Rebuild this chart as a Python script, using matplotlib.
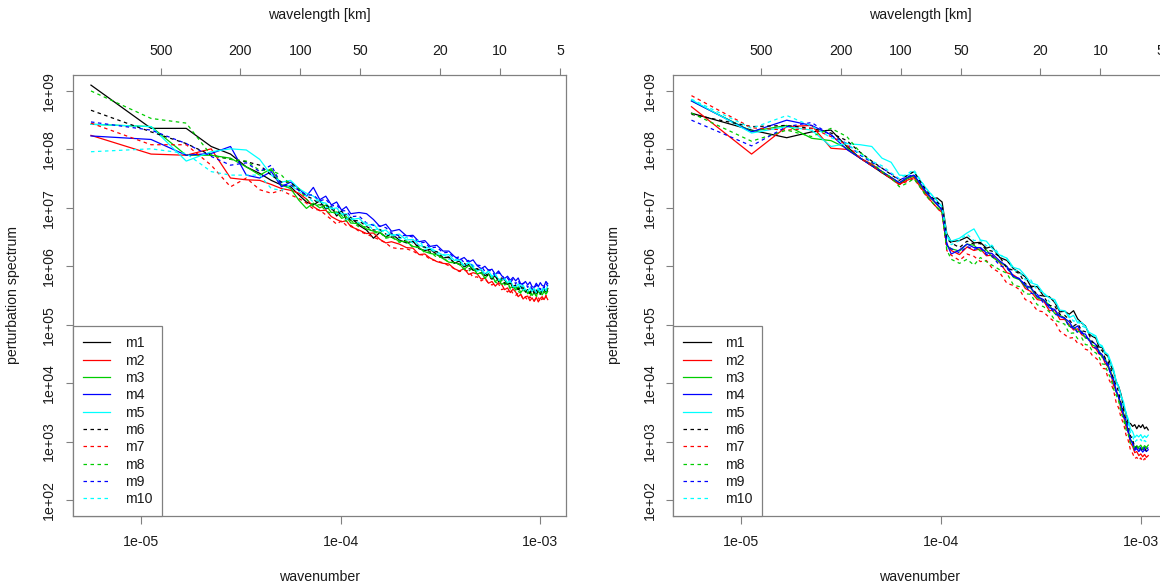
import numpy as np
import matplotlib
matplotlib.use("Agg")
import matplotlib.pyplot as plt
from matplotlib.ticker import FixedLocator, NullLocator
from matplotlib.transforms import blended_transform_factory

plt.rcParams['font.family'] = ['Liberation Sans', 'DejaVu Sans']

# ---------------- data ----------------
domain_km = 1118.0
mode_index = (list(range(1, 21)) + list(range(22, 33, 2)) +
              list(range(35, 51, 3)) + list(range(54, 195, 4)))
wavenumber = 2 * np.pi * np.array(mode_index) / (domain_km * 1000.0)

series_names = ["m1", "m2", "m3", "m4", "m5", "m6", "m7", "m8", "m9", "m10"]
series_colors = ["black", "#FF0000", "#00CD00", "#0000FF", "#00FFFF"] * 2
series_dashed = [False] * 5 + [True] * 5

wavelength_ticks_km = [500, 200, 100, 50, 20, 10, 5]
wavenumber_ticks = [1e-5, 1e-4, 1e-3]
wavenumber_labels = ["1e-05", "1e-04", "1e-03"]
spectrum_ticks = [1e2, 1e3, 1e4, 1e5, 1e6, 1e7, 1e8, 1e9]
spectrum_labels = ["1e+02", "1e+03", "1e+04", "1e+05", "1e+06", "1e+07", "1e+08", "1e+09"]

# log10(perturbation spectrum), left panel
left_m1 = [9.10, 8.36, 8.36, 8.05, 7.92, 7.70, 7.59, 7.47, 7.39, 7.36, 7.22, 7.10,
           7.05, 7.12, 6.98, 7.02, 6.86, 6.95, 6.80, 6.84,
           6.70, 6.62, 6.48, 6.58, 6.50, 6.56, 6.45, 6.40,
           6.43, 6.30, 6.27, 6.29, 6.20, 6.14, 6.16, 6.05,
           6.09, 5.99, 6.03, 5.93, 5.95, 5.94, 5.84, 5.87,
           5.79, 5.84, 5.74, 5.78, 5.77, 5.69, 5.72, 5.63,
           5.67, 5.60, 5.66, 5.64, 5.56, 5.60, 5.53, 5.61,
           5.60, 5.53, 5.59, 5.52, 5.59, 5.62, 5.56, 5.62]
left_m2 = [8.24, 7.92, 7.90, 8.01, 7.51, 7.48, 7.47, 7.40, 7.33, 7.30, 7.25, 7.15,
           7.02, 6.95, 6.96, 6.85, 6.80, 6.76, 6.78, 6.68,
           6.62, 6.56, 6.57, 6.46, 6.40, 6.42, 6.38, 6.32,
           6.31, 6.20, 6.21, 6.14, 6.08, 6.05, 6.04, 5.96,
           5.92, 5.96, 5.86, 5.89, 5.87, 5.78, 5.80, 5.71,
           5.74, 5.66, 5.72, 5.69, 5.60, 5.63, 5.55, 5.61,
           5.56, 5.48, 5.52, 5.44, 5.48, 5.49, 5.41, 5.46,
           5.40, 5.47, 5.39, 5.45, 5.48, 5.43, 5.49, 5.43]
left_m3 = [8.43, 8.39, 7.90, 7.90, 7.85, 7.70, 7.56, 7.67, 7.39, 7.33, 7.13, 6.99,
           7.08, 7.00, 7.05, 6.92, 6.93, 6.82, 6.85, 6.74,
           6.73, 6.64, 6.60, 6.58, 6.50, 6.50, 6.43, 6.42,
           6.34, 6.32, 6.25, 6.22, 6.20, 6.13, 6.07, 6.06,
           6.04, 5.95, 6.01, 5.97, 5.87, 5.89, 5.80, 5.86,
           5.83, 5.74, 5.78, 5.69, 5.72, 5.72, 5.63, 5.66,
           5.59, 5.65, 5.55, 5.60, 5.60, 5.53, 5.57, 5.50,
           5.55, 5.49, 5.57, 5.56, 5.51, 5.57, 5.52, 5.61]
left_m4 = [8.23, 8.17, 7.90, 7.93, 8.05, 7.56, 7.51, 7.62, 7.36, 7.44, 7.33, 7.20,
           7.35, 7.14, 7.20, 7.05, 7.10, 6.96, 7.02, 6.90,
           6.92, 6.90, 6.80, 6.68, 6.72, 6.60, 6.63, 6.52,
           6.53, 6.42, 6.44, 6.34, 6.36, 6.26, 6.26, 6.17,
           6.11, 6.15, 6.07, 6.11, 6.01, 5.96, 6.00, 5.93,
           5.95, 5.86, 5.92, 5.84, 5.79, 5.83, 5.76, 5.81,
           5.75, 5.80, 5.70, 5.70, 5.74, 5.68, 5.73, 5.65,
           5.64, 5.71, 5.65, 5.72, 5.67, 5.66, 5.74, 5.70]
left_m5 = [8.43, 8.39, 7.80, 7.96, 8.01, 7.99, 7.83, 7.56, 7.44, 7.47, 7.33, 7.25,
           7.20, 7.10, 7.08, 6.98, 7.00, 6.89, 6.90, 6.80,
           6.82, 6.70, 6.72, 6.60, 6.62, 6.53, 6.55, 6.45,
           6.46, 6.36, 6.33, 6.31, 6.25, 6.19, 6.20, 6.10,
           6.11, 6.01, 6.07, 5.98, 5.92, 5.95, 5.87, 5.92,
           5.83, 5.87, 5.77, 5.76, 5.79, 5.72, 5.76, 5.66,
           5.64, 5.70, 5.62, 5.68, 5.60, 5.57, 5.63, 5.58,
           5.62, 5.55, 5.63, 5.57, 5.56, 5.63, 5.59, 5.67]
left_m6 = [8.67, 8.30, 8.10, 7.90, 7.83, 7.79, 7.73, 7.56, 7.44, 7.44, 7.30, 7.20,
           7.15, 7.05, 7.06, 6.97, 6.96, 6.87, 6.88, 6.78,
           6.78, 6.68, 6.62, 6.63, 6.55, 6.50, 6.50, 6.42,
           6.42, 6.33, 6.33, 6.24, 6.25, 6.15, 6.15, 6.06,
           6.03, 6.06, 5.96, 5.94, 5.96, 5.88, 5.91, 5.81,
           5.78, 5.83, 5.75, 5.80, 5.71, 5.67, 5.72, 5.65,
           5.68, 5.60, 5.66, 5.59, 5.55, 5.60, 5.54, 5.61,
           5.54, 5.60, 5.52, 5.53, 5.60, 5.56, 5.63, 5.56]
left_m7 = [8.45, 8.08, 8.08, 7.73, 7.36, 7.51, 7.31, 7.25, 7.30, 7.22, 7.16, 7.08,
           6.98, 6.96, 6.88, 6.80, 6.72, 6.78, 6.70, 6.70,
           6.60, 6.55, 6.50, 6.45, 6.40, 6.32, 6.30, 6.30,
           6.26, 6.20, 6.19, 6.12, 6.09, 6.06, 6.01, 5.96,
           5.91, 5.93, 5.92, 5.81, 5.82, 5.75, 5.79, 5.71,
           5.68, 5.71, 5.70, 5.60, 5.62, 5.56, 5.61, 5.53,
           5.50, 5.54, 5.53, 5.44, 5.47, 5.42, 5.48, 5.42,
           5.41, 5.46, 5.47, 5.39, 5.45, 5.42, 5.50, 5.45]
left_m8 = [9.00, 8.53, 8.45, 7.90, 7.83, 7.80, 7.64, 7.64, 7.56, 7.39, 7.33, 7.15,
           7.02, 7.06, 6.95, 6.90, 6.92, 6.87, 6.77, 6.79,
           6.67, 6.68, 6.57, 6.58, 6.48, 6.50, 6.41, 6.43,
           6.32, 6.33, 6.23, 6.25, 6.15, 6.16, 6.06, 6.07,
           6.03, 5.95, 5.92, 5.97, 5.88, 5.89, 5.79, 5.83,
           5.80, 5.73, 5.70, 5.76, 5.68, 5.70, 5.61, 5.65,
           5.63, 5.57, 5.54, 5.61, 5.54, 5.57, 5.49, 5.55,
           5.54, 5.49, 5.48, 5.56, 5.52, 5.57, 5.51, 5.58]
left_m9 = [8.47, 8.33, 8.10, 7.88, 7.73, 7.77, 7.62, 7.73, 7.39, 7.39, 7.30, 7.22,
           7.22, 7.12, 7.15, 7.03, 7.05, 6.95, 6.95, 6.85,
           6.86, 6.74, 6.70, 6.69, 6.66, 6.57, 6.52, 6.53,
           6.50, 6.40, 6.41, 6.31, 6.33, 6.23, 6.24, 6.14,
           6.16, 6.06, 6.10, 6.00, 6.02, 6.01, 5.91, 5.94,
           5.91, 5.83, 5.89, 5.86, 5.77, 5.80, 5.72, 5.78,
           5.70, 5.76, 5.66, 5.71, 5.71, 5.64, 5.68, 5.61,
           5.62, 5.67, 5.68, 5.60, 5.66, 5.63, 5.71, 5.66]
left_m10 = [7.96, 8.01, 7.93, 7.62, 7.56, 7.56, 7.56, 7.33, 7.30, 7.39, 7.28, 7.20,
            7.10, 7.15, 7.00, 7.02, 6.90, 6.92, 6.80, 6.84,
            6.74, 6.74, 6.62, 6.65, 6.54, 6.56, 6.47, 6.50,
            6.39, 6.45, 6.29, 6.30, 6.21, 6.21, 6.12, 6.13,
            6.09, 6.00, 6.06, 6.02, 5.92, 5.94, 5.85, 5.91,
            5.81, 5.86, 5.76, 5.80, 5.79, 5.71, 5.74, 5.65,
            5.65, 5.69, 5.68, 5.59, 5.62, 5.57, 5.63, 5.57,
            5.62, 5.55, 5.61, 5.54, 5.61, 5.64, 5.58, 5.64]

# log10(perturbation spectrum), right panel
right_m1 = [8.62, 8.33, 8.20, 8.30, 8.33, 8.05, 7.85, 7.72, 7.60, 7.50,
            7.40, 7.50, 7.55, 7.40, 7.25, 7.15, 7.17, 7.10,
            6.56, 6.42, 6.44, 6.50, 6.40, 6.41, 6.31, 6.34,
            6.15, 6.10, 5.96, 5.89, 5.82, 5.66, 5.65, 5.49,
            5.48, 5.38, 5.22, 5.23, 5.18, 5.24, 5.10, 5.03,
            4.98, 4.84, 4.80, 4.77, 4.62, 4.61, 4.50, 4.46,
            4.30, 4.21, 4.03, 3.94, 3.80, 3.59, 3.49, 3.32,
            3.31, 3.26, 3.29, 3.22, 3.28, 3.24, 3.29, 3.22,
            3.25, 3.20]
right_m2 = [8.73, 7.92, 8.39, 8.41, 8.02, 8.00, 7.85, 7.75, 7.62, 7.50,
            7.40, 7.47, 7.52, 7.36, 7.22, 7.10, 7.00, 6.92,
            6.37, 6.27, 6.20, 6.33, 6.27, 6.30, 6.18, 6.19,
            6.06, 5.89, 5.85, 5.78, 5.62, 5.57, 5.43, 5.41,
            5.24, 5.25, 5.09, 5.09, 5.00, 4.91, 4.93, 4.83,
            4.79, 4.75, 4.62, 4.59, 4.50, 4.47, 4.34, 4.28,
            4.17, 3.96, 3.87, 3.76, 3.53, 3.43, 3.26, 3.16,
            2.98, 2.92, 2.81, 2.83, 2.76, 2.79, 2.74, 2.78,
            2.73, 2.76]
right_m3 = [8.83, 8.31, 8.41, 8.19, 8.15, 8.02, 7.85, 7.73, 7.62, 7.52,
            7.43, 7.50, 7.55, 7.40, 7.26, 7.15, 7.05, 6.95,
            6.35, 6.30, 6.26, 6.38, 6.36, 6.26, 6.28, 6.16,
            6.07, 5.99, 5.81, 5.77, 5.65, 5.63, 5.46, 5.42,
            5.34, 5.19, 5.16, 5.12, 4.97, 4.97, 4.88, 4.89,
            4.77, 4.76, 4.65, 4.63, 4.56, 4.44, 4.43, 4.28,
            4.19, 4.06, 3.85, 3.75, 3.58, 3.49, 3.30, 3.20,
            3.04, 2.99, 2.89, 2.93, 2.90, 2.94, 2.88, 2.93,
            2.90, 2.94]
right_m4 = [8.83, 8.30, 8.50, 8.41, 8.25, 8.00, 7.85, 7.72, 7.62, 7.52,
            7.43, 7.52, 7.56, 7.42, 7.27, 7.16, 7.06, 6.97,
            6.39, 6.21, 6.28, 6.38, 6.32, 6.32, 6.23, 6.22,
            6.09, 6.00, 5.83, 5.78, 5.67, 5.64, 5.48, 5.43,
            5.29, 5.26, 5.14, 5.11, 5.05, 4.93, 4.98, 4.85,
            4.84, 4.73, 4.71, 4.66, 4.53, 4.49, 4.38, 4.33,
            4.16, 4.06, 3.87, 3.77, 3.63, 3.44, 3.37, 3.17,
            3.03, 2.97, 2.85, 2.88, 2.83, 2.87, 2.82, 2.86,
            2.83, 2.86]
right_m5 = [8.85, 8.28, 8.39, 8.33, 8.05, 8.10, 8.08, 8.05, 7.85, 7.78,
            7.56, 7.55, 7.62, 7.47, 7.33, 7.22, 7.12, 7.02,
            6.53, 6.43, 6.48, 6.57, 6.64, 6.45, 6.43, 6.31,
            6.19, 6.14, 5.98, 5.95, 5.84, 5.72, 5.68, 5.54,
            5.46, 5.43, 5.25, 5.24, 5.12, 5.16, 5.03, 5.04,
            4.97, 4.87, 4.84, 4.81, 4.67, 4.64, 4.53, 4.49,
            4.37, 4.24, 4.04, 3.94, 3.78, 3.68, 3.49, 3.39,
            3.22, 3.17, 3.07, 3.11, 3.08, 3.12, 3.06, 3.10,
            3.07, 3.11]
right_m6 = [8.60, 8.39, 8.41, 8.36, 8.28, 8.15, 7.95, 7.80, 7.68, 7.57,
            7.47, 7.55, 7.62, 7.45, 7.30, 7.18, 7.10, 7.02,
            6.47, 6.40, 6.32, 6.43, 6.38, 6.39, 6.28, 6.26,
            6.16, 5.97, 5.93, 5.87, 5.70, 5.66, 5.51, 5.49,
            5.33, 5.32, 5.18, 5.16, 5.09, 4.98, 5.02, 4.90,
            4.88, 4.83, 4.70, 4.68, 4.58, 4.56, 4.43, 4.37,
            4.26, 4.06, 3.97, 3.85, 3.64, 3.54, 3.37, 3.28,
            3.10, 3.04, 2.90, 2.91, 2.86, 2.89, 2.85, 2.89,
            2.84, 2.88]
right_m7 = [8.92, 8.37, 8.33, 8.36, 8.22, 8.08, 7.85, 7.72, 7.60, 7.50,
            7.40, 7.45, 7.50, 7.35, 7.20, 7.10, 7.00, 6.90,
            6.27, 6.19, 6.10, 6.21, 6.17, 6.08, 6.10, 5.97,
            5.89, 5.71, 5.67, 5.60, 5.43, 5.39, 5.24, 5.22,
            5.12, 5.05, 4.89, 4.83, 4.77, 4.78, 4.68, 4.67,
            4.58, 4.56, 4.47, 4.43, 4.38, 4.25, 4.25, 4.09,
            4.00, 3.88, 3.67, 3.57, 3.40, 3.31, 3.12, 3.02,
            2.86, 2.80, 2.71, 2.73, 2.68, 2.72, 2.66, 2.71,
            2.69, 2.72]
right_m8 = [8.62, 8.14, 8.33, 8.22, 8.36, 8.22, 7.95, 7.78, 7.62, 7.52,
            7.36, 7.42, 7.50, 7.35, 7.20, 7.10, 7.00, 6.92,
            6.28, 6.12, 6.05, 6.12, 6.02, 6.15, 6.08, 6.02,
            5.94, 5.88, 5.68, 5.65, 5.53, 5.52, 5.34, 5.31,
            5.22, 5.08, 5.04, 5.01, 4.85, 4.86, 4.76, 4.78,
            4.66, 4.65, 4.54, 4.52, 4.45, 4.33, 4.32, 4.17,
            4.09, 3.90, 3.80, 3.69, 3.48, 3.38, 3.21, 3.12,
            2.96, 2.94, 2.87, 2.92, 2.88, 2.91, 2.86, 2.92,
            2.88, 2.91]
right_m9 = [8.50, 8.06, 8.39, 8.46, 8.24, 8.10, 7.90, 7.78, 7.68, 7.58,
            7.48, 7.53, 7.57, 7.41, 7.27, 7.16, 7.07, 6.96,
            6.38, 6.30, 6.23, 6.34, 6.29, 6.32, 6.20, 6.18,
            6.01, 5.97, 5.82, 5.79, 5.68, 5.54, 5.52, 5.37,
            5.33, 5.18, 5.15, 5.11, 4.96, 4.96, 4.86, 4.88,
            4.80, 4.75, 4.63, 4.60, 4.51, 4.49, 4.36, 4.30,
            4.14, 4.04, 3.86, 3.76, 3.62, 3.43, 3.36, 3.17,
            3.03, 2.98, 2.87, 2.91, 2.86, 2.90, 2.85, 2.90,
            2.86, 2.90]
right_m10 = [8.86, 8.36, 8.58, 8.40, 8.20, 8.10, 7.92, 7.80, 7.72, 7.60,
             7.50, 7.58, 7.65, 7.48, 7.33, 7.22, 7.12, 7.02,
             6.52, 6.37, 6.44, 6.55, 6.44, 6.45, 6.35, 6.36,
             6.20, 6.13, 5.94, 5.91, 5.77, 5.77, 5.59, 5.56,
             5.39, 5.40, 5.24, 5.24, 5.15, 5.06, 5.08, 4.98,
             4.95, 4.84, 4.82, 4.79, 4.65, 4.62, 4.51, 4.46,
             4.29, 4.19, 4.01, 3.91, 3.77, 3.58, 3.51, 3.32,
             3.16, 3.09, 2.99, 3.03, 3.00, 3.04, 2.98, 3.02,
             2.99, 3.02]

left_series = [left_m1, left_m2, left_m3, left_m4, left_m5,
               left_m6, left_m7, left_m8, left_m9, left_m10]
right_series = [right_m1, right_m2, right_m3, right_m4, right_m5,
                right_m6, right_m7, right_m8, right_m9, right_m10]

# ---------------- figure ----------------
W, H = 1160, 586
fig = plt.figure(figsize=(W / 100, H / 100), dpi=100)

BOX_COL = "#808080"
TXT_COL = "#1a1a1a"
FS = 10.2

ax_left_px, ax_w_px = 72.7, 493.3
ax_top_px, ax_bot_px = 74.6, 516.4
panel_offset_px = 600.5


def make_panel(x0_px, series):
    ax = fig.add_axes([x0_px / W, 1 - ax_bot_px / H, ax_w_px / W,
                       (ax_bot_px - ax_top_px) / H])
    for vals, name, col, dashed in zip(series, series_names, series_colors, series_dashed):
        ls = (0, (2.8, 2.8)) if dashed else "-"
        ax.plot(wavenumber, np.power(10.0, vals), color=col, linestyle=ls,
                linewidth=0.9, label=name, solid_joinstyle="round")
    ax.set_xscale("log")
    ax.set_yscale("log")
    lo, hi = np.log10(wavenumber.min()), np.log10(wavenumber.max())
    pad = 0.04 * (hi - lo)
    ax.set_xlim(10 ** (lo - pad), 10 ** (hi + pad))
    ax.set_ylim(10 ** (2 - 0.28), 10 ** (9 + 0.28))
    ax.xaxis.set_major_locator(FixedLocator(wavenumber_ticks))
    ax.xaxis.set_minor_locator(NullLocator())
    ax.yaxis.set_major_locator(FixedLocator(spectrum_ticks))
    ax.yaxis.set_minor_locator(NullLocator())
    ax.set_xticklabels(wavenumber_labels)
    ax.set_yticklabels(spectrum_labels, rotation=90, va="center")
    for s in ax.spines.values():
        s.set_color(BOX_COL)
        s.set_linewidth(0.9)
    ax.tick_params(axis="x", direction="out", length=5.4, width=0.8,
                   color=BOX_COL, labelcolor=TXT_COL, labelsize=FS, pad=7.9)
    ax.tick_params(axis="y", direction="out", length=5.4, width=0.8,
                   color=BOX_COL, labelcolor=TXT_COL, labelsize=FS, pad=6.5)

    top = ax.twiny()
    top.set_xscale("log")
    top.set_xlim(ax.get_xlim())
    top_k = [2 * np.pi / (lam * 1000.0) for lam in wavelength_ticks_km]
    top.xaxis.set_major_locator(FixedLocator(top_k))
    top.xaxis.set_minor_locator(NullLocator())
    top.set_xticklabels([str(l) for l in wavelength_ticks_km])
    for s in top.spines.values():
        s.set_visible(False)
    top.tick_params(axis="x", direction="out", length=5.4, width=0.8,
                    color=BOX_COL, labelcolor=TXT_COL, labelsize=FS, pad=6.5)

    leg = ax.legend(loc="lower left", bbox_to_anchor=(0, 0), borderaxespad=0,
                    borderpad=0.71, handlelength=1.95, handletextpad=1.0,
                    labelspacing=0.235, fontsize=FS, fancybox=False,
                    framealpha=1, edgecolor=BOX_COL)
    leg.get_frame().set_linewidth(0.9)
    for t in leg.get_texts():
        t.set_color(TXT_COL)

    bt = blended_transform_factory(ax.transAxes, fig.transFigure)
    ax.text(0.5, 1 - 577 / H, "wavenumber", transform=bt, ha="center",
            va="center", fontsize=FS, color=TXT_COL)
    ax.text(0.5, 1 - 15.5 / H, "wavelength [km]", transform=bt, ha="center",
            va="center", fontsize=FS, color=TXT_COL)
    fig.text((x0_px - 59.2) / W, 1 - 0.5 * (ax_top_px + ax_bot_px) / H,
             "perturbation spectrum", rotation=90, ha="center", va="center",
             fontsize=FS, color=TXT_COL)
    return ax


make_panel(ax_left_px, left_series)
make_panel(ax_left_px + panel_offset_px, right_series)

fig.savefig("out.png", dpi=100)
